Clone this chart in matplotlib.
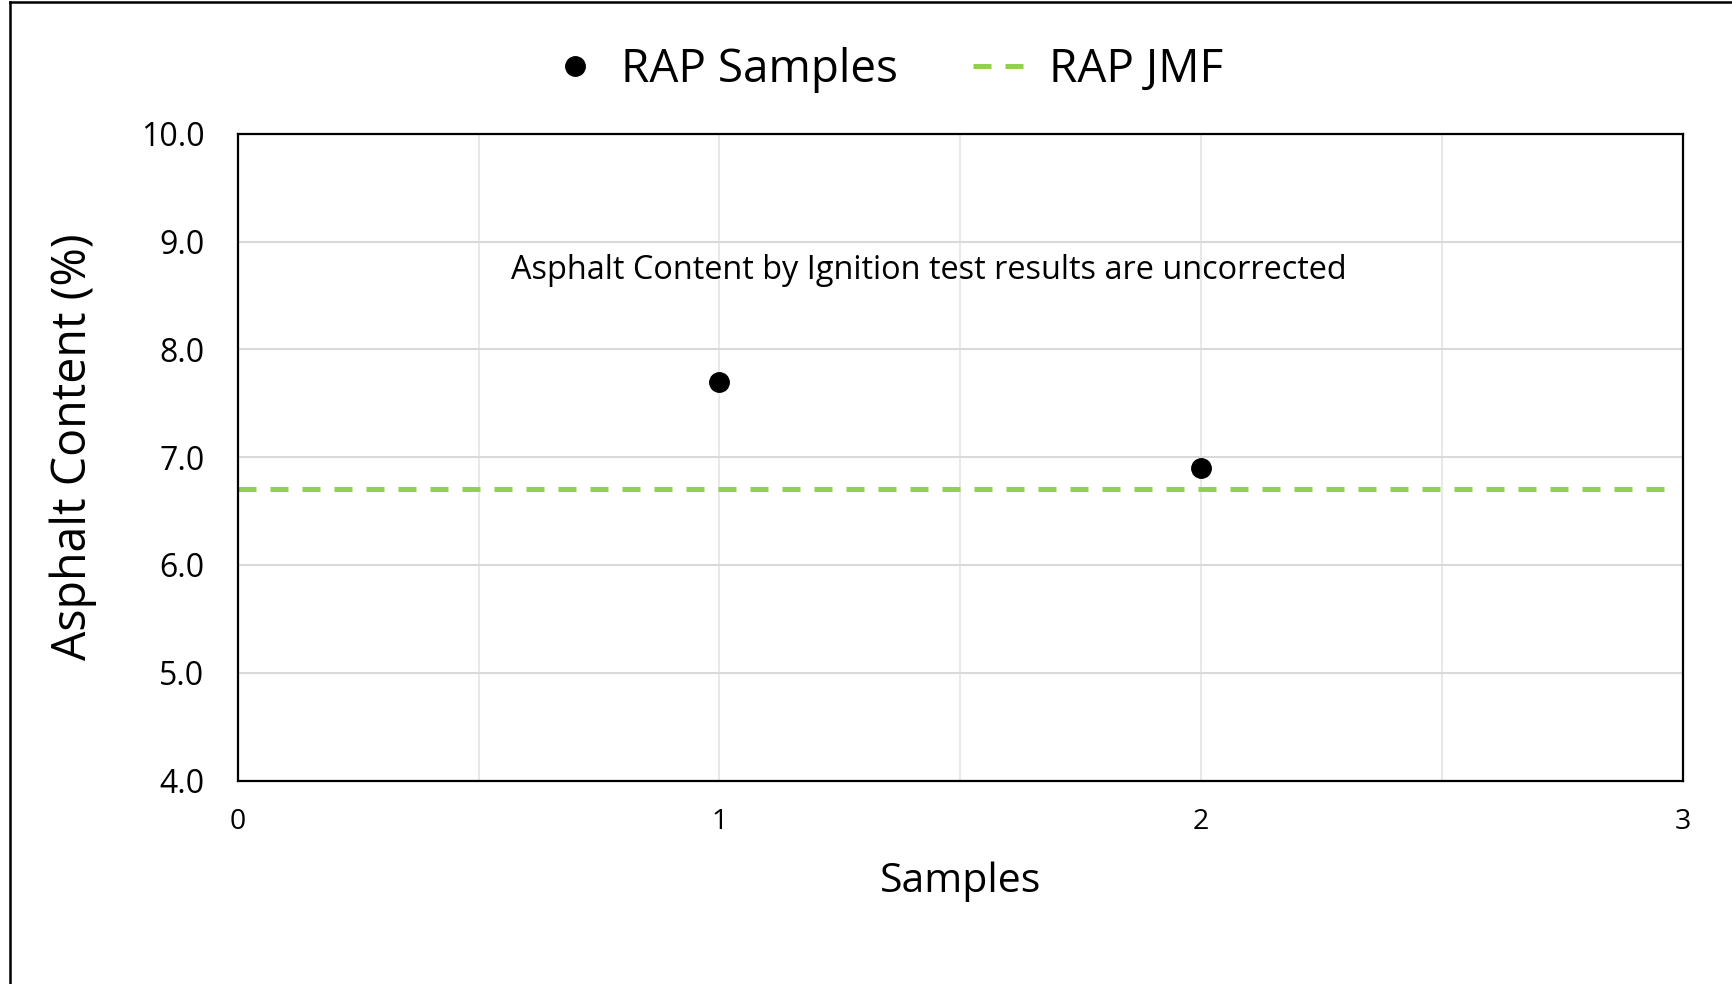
import matplotlib
matplotlib.use("Agg")
import matplotlib.pyplot as plt
from matplotlib.lines import Line2D

samples_x = [1, 2]
samples_y = [7.7, 6.9]
jmf_x = [0, 2.97]
jmf_y = [6.7, 6.7]
yticks = [4.0, 5.0, 6.0, 7.0, 8.0, 9.0, 10.0]
xticks = [0, 1, 2, 3]
note = "Asphalt Content by Ignition test results are uncorrected"

plt.rcParams['font.family'] = ['Open Sans', 'DejaVu Sans']

W, H = 1733, 984
fig = plt.figure(figsize=(W/100, H/100), dpi=100)
L, R, T, B = 237.7, 1683, 133.7, 780.5
ax = fig.add_axes([L/W, 1-B/H, (R-L)/W, (B-T)/H])

ax.set_xlim(0, 3)
ax.set_ylim(4, 10)
ax.set_xticks(xticks)
ax.set_xticks([0.5, 1.5, 2.5], minor=True)
ax.set_yticks(yticks)
ax.set_yticklabels([f"{v:.1f}" for v in yticks])
ax.grid(True, which='both', axis='x', color='#E6E6E6', lw=1.3, zorder=0)
ax.grid(True, which='major', axis='y', color='#D9D9D9', lw=1.5, zorder=0)
ax.tick_params(which='both', length=0)
ax.tick_params(axis='y', pad=24, labelsize=23)
ax.tick_params(axis='x', pad=20, labelsize=20.5)
for s in ax.spines.values():
    s.set_linewidth(1.6)
    s.set_color('black')

ax.plot(jmf_x, jmf_y, color='#92D050', lw=3.6, dashes=(3.6, 2.8),
        label='RAP JMF', zorder=2, clip_on=False)
ax.plot(samples_x, samples_y, 'o', color='black', ms=14, label='RAP Samples', zorder=3)

ax.text(1.435, 8.735, note, ha='center', va='center', fontsize=23.4)

ax.set_xlabel("Samples", fontsize=29.5)
ax.xaxis.set_label_coords(0.5, (B-882)/(B-T))
ax.xaxis.label.set_va('center')
ax.set_ylabel("Asphalt Content (%)", fontsize=33.5)
ax.yaxis.set_label_coords((73-L)/(R-L), 1-(446.5-T)/(B-T))
ax.yaxis.label.set_va('center')
ax.yaxis.label.set_ha('center')

h, l = ax.get_legend_handles_labels()
leg = fig.legend([h[1], h[0]], [l[1], l[0]], loc='center', bbox_to_anchor=(884/W, 1-70/H),
                 ncol=2, frameon=False, fontsize=33, handlelength=1.3, columnspacing=1.65,
                 handletextpad=0.35)

fig.add_artist(Line2D([10/W, 10/W], [0, 1-2/H], color='black', lw=1.8, transform=fig.transFigure))
fig.add_artist(Line2D([10/W, 1], [1-2/H, 1-2/H], color='black', lw=1.8, transform=fig.transFigure))

fig.savefig("out.png", dpi=100, facecolor='white')
